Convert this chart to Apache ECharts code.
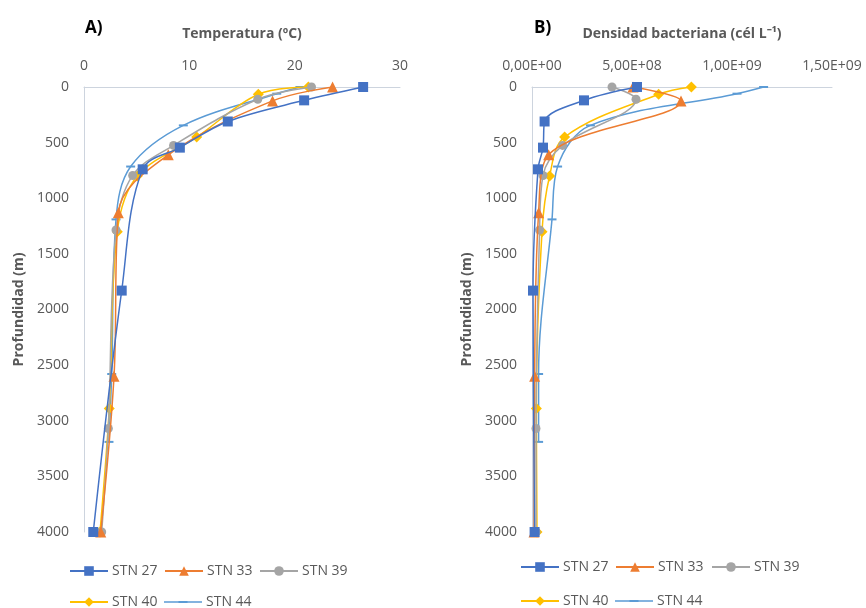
<!DOCTYPE html>
<html>
<head>
<meta charset="utf-8">
<script src="https://cdn.jsdelivr.net/npm/echarts@6/dist/echarts.min.js"></script>
<style>
html,body{margin:0;padding:0;background:#fff;}
#chart{width:866px;height:608px;}
</style>
</head>
<body>
<div id="chart"></div>
<script>
// ---- Data (depth in m) ----
const stations = ['STN 27', 'STN 33', 'STN 39', 'STN 40', 'STN 44'];

const depth27 = [0, 120, 310, 545, 740, 1830, 4000];
const depth33 = [0, 125, 610, 1130, 2600, 4000];
const depth39 = [0, 110, 525, 795, 1285, 3070, 4000];
const depth40 = [0, 65, 450, 800, 1300, 2890, 4000];
const depth44 = [0, 60, 345, 715, 1190, 2580, 3190];

// Temperature (ºC)
const temp27 = [26.5, 20.9, 13.65, 9.1, 5.57, 3.58, 0.88];
const temp33 = [23.6, 17.9, 8.0, 3.26, 2.85, 1.59];
const temp39 = [21.6, 16.5, 8.5, 4.62, 3.04, 2.31, 1.68];
const temp40 = [21.3, 16.55, 10.7, 5.06, 3.16, 2.4, 1.52];
const temp44 = [20.5, 18.3, 9.43, 4.43, 3.04, 2.63, 2.37];

// Bacterial density (cells/L)
const dens27 = [5.25e8, 2.6e8, 0.63e8, 0.55e8, 0.3e8, 0.05e8, 0.13e8];
const dens33 = [5.05e8, 7.45e8, 0.83e8, 0.33e8, 0.13e8, 0.1e8];
const dens39 = [4.0e8, 5.2e8, 1.53e8, 0.55e8, 0.38e8, 0.2e8, 0.2e8];
const dens40 = [7.97e8, 6.33e8, 1.63e8, 0.88e8, 0.5e8, 0.22e8, 0.25e8];
const dens44 = [11.58e8, 10.25e8, 2.92e8, 1.28e8, 1.0e8, 0.33e8, 0.33e8];

const depths = [depth27, depth33, depth39, depth40, depth44];
const temps = [temp27, temp33, temp39, temp40, temp44];
const denss = [dens27, dens33, dens39, dens40, dens44];

// ---- Styles ----
const colors = ['#4472C4', '#ED7D31', '#A5A5A5', '#FFC000', '#5B9BD5'];
const symbols = ['rect', 'triangle', 'circle', 'diamond', 'rect'];
const symbolSizes = [10, 11, 9, 11, [9, 2]];
const FONT = 'Open Sans';
const labelColor = '#595959';
const axisLineColor = '#CDD4DE';
// legend icon for the dash-marker series: thin line with a short thicker dash in the middle
const DASH_LEGEND_ICON = 'path://M0,0 L0.01,0 L0,0.01 Z M0,12 L0.01,12 L0,11.99 Z ' +
  'M0,5.3 L38,5.3 L38,6.7 L0,6.7 Z M14.5,5 L23.5,5 L23.5,7 L14.5,7 Z';

function sci(v) {
  if (v === 0) return '0,00E+00';
  const e = Math.floor(Math.log10(Math.abs(v)) + 1e-9);
  const m = v / Math.pow(10, e);
  return m.toFixed(2).replace('.', ',') + 'E+' + (e < 10 ? '0' + e : e);
}

function zip(xs, ys) { return xs.map((x, i) => [x, ys[i]]); }

const series = [];
stations.forEach((name, i) => {
  [temps, denss].forEach((vals, g) => {
    series.push({
      name: name,
      type: 'line',
      xAxisIndex: g,
      yAxisIndex: g,
      data: zip(vals[i], depths[i]),
      smooth: 0.35,
      symbol: symbols[i],
      symbolSize: symbolSizes[i],
      showAllSymbol: true,
      itemStyle: { color: colors[i] },
      lineStyle: { color: colors[i], width: 1.5 },
      emphasis: { disabled: true },
      z: 10 - i
    });
  });
});

const yAxisBase = {
  type: 'value',
  inverse: true,
  min: 0,
  max: 4000,
  interval: 500,
  name: 'Profundidad (m)',
  nameLocation: 'middle',
  nameGap: 58,
  nameTextStyle: { fontFamily: FONT, fontSize: 14, fontWeight: 'bold', color: labelColor },
  axisLine: { show: true, lineStyle: { color: axisLineColor, width: 1 } },
  axisTick: { show: false },
  splitLine: { show: false },
  axisLabel: { fontFamily: FONT, fontSize: 14, color: labelColor, margin: 15, formatter: v => String(v) }
};

const legendPos = [
  // panel A
  { name: 'STN 27', left: 69, top: 564 },
  { name: 'STN 33', left: 164, top: 564 },
  { name: 'STN 39', left: 259, top: 564 },
  { name: 'STN 40', left: 69, top: 595 },
  { name: 'STN 44', left: 164, top: 595 },
  // panel B
  { name: 'STN 27', left: 520, top: 560 },
  { name: 'STN 33', left: 615, top: 560 },
  { name: 'STN 39', left: 711, top: 560 },
  { name: 'STN 40', left: 520, top: 594 },
  { name: 'STN 44', left: 615, top: 594 }
];

const legends = legendPos.map(p => ({
  data: [p.name === 'STN 44'
    ? { name: p.name, icon: DASH_LEGEND_ICON, itemStyle: { color: colors[4] } }
    : p.name],
  left: p.left,
  top: p.top,
  orient: 'horizontal',
  padding: 0,
  itemWidth: 38,
  itemHeight: 12,
  itemGap: 0,
  selectedMode: false,
  textStyle: { fontFamily: FONT, fontSize: 14, color: labelColor, padding: [0, 0, 0, -1] }
}));

const option = {
  animation: false,
  backgroundColor: '#ffffff',
  title: [
    { text: 'A)', left: 80, top: 15, textStyle: { fontFamily: FONT, fontSize: 17, fontWeight: 'bold', color: '#000' } },
    { text: 'B)', left: 529, top: 15, textStyle: { fontFamily: FONT, fontSize: 17, fontWeight: 'bold', color: '#000' } }
  ],
  legend: legends,
  grid: [
    { left: 84, top: 87, width: 316, height: 445, containLabel: false },
    { left: 532, top: 87, width: 300, height: 445, containLabel: false }
  ],
  xAxis: [
    {
      type: 'value', gridIndex: 0, position: 'top',
      min: 0, max: 30, interval: 10,
      name: 'Temperatura (ºC)', nameLocation: 'middle', nameGap: 46,
      nameTextStyle: { fontFamily: FONT, fontSize: 14, fontWeight: 'bold', color: labelColor },
      axisLine: { show: true, lineStyle: { color: axisLineColor, width: 1 } },
      axisTick: { show: false },
      splitLine: { show: false },
      axisLabel: { fontFamily: FONT, fontSize: 14, color: labelColor, margin: 14 }
    },
    {
      type: 'value', gridIndex: 1, position: 'top',
      min: 0, max: 1.5e9, interval: 5e8,
      name: 'Densidad bacteriana (cél L\u207B\u00B9)', nameLocation: 'middle', nameGap: 46,
      nameTextStyle: { fontFamily: FONT, fontSize: 14, fontWeight: 'bold', color: labelColor },
      axisLine: { show: true, lineStyle: { color: axisLineColor, width: 1 } },
      axisTick: { show: false },
      splitLine: { show: false },
      axisLabel: { fontFamily: FONT, fontSize: 14, color: labelColor, margin: 14, formatter: sci }
    }
  ],
  yAxis: [
    Object.assign({}, yAxisBase, { gridIndex: 0 }),
    Object.assign({}, yAxisBase, { gridIndex: 1 })
  ],
  series: series
};

const chart = echarts.init(document.getElementById('chart'), null, { renderer: 'canvas' });
chart.setOption(option);
</script>
</body>
</html>
